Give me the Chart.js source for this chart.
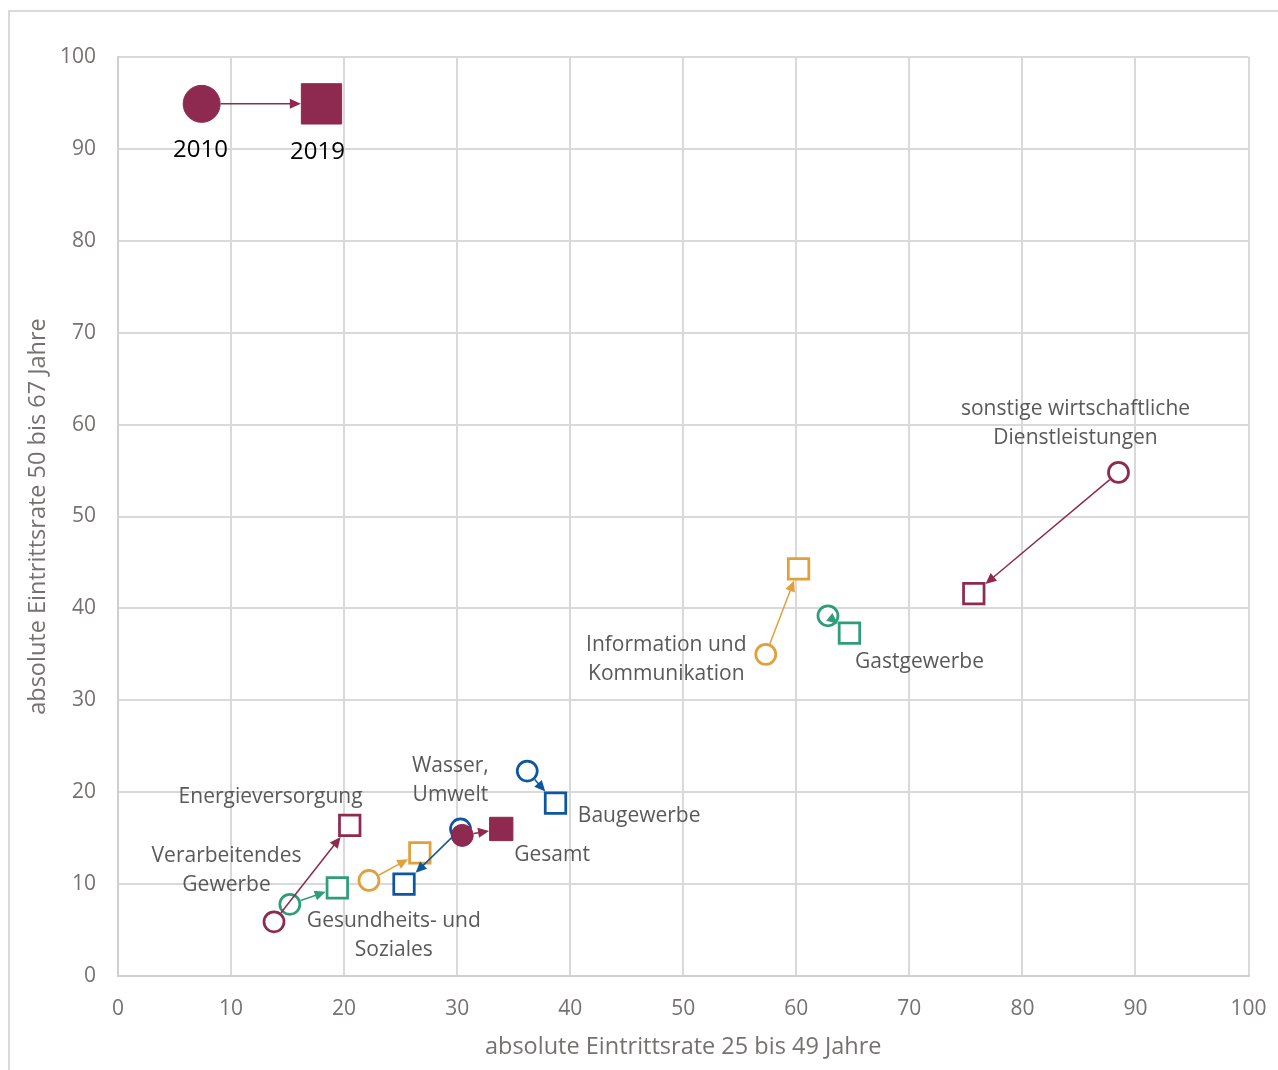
<!DOCTYPE html>
<html lang="de">
<head>
<meta charset="UTF-8">
<title>Eintrittsraten 2010 und 2019</title>
<script src="https://cdn.jsdelivr.net/npm/chart.js@4"></script>
<style>
  html, body { margin: 0; padding: 0; background: #fff; overflow: hidden; }
  .rahmen { position: absolute; left: 8px; top: 10px; width: 1400px; height: 1200px; border: 2px solid #dadada; }
  .wrap { position: absolute; left: 0; top: 0; width: 1278px; height: 1070px; }
</style>
</head>
<body>
<div class="rahmen"></div>
<div class="wrap"><canvas id="chart"></canvas></div>
<script>
// Werte 2010 (Kreis) und 2019 (Quadrat)
const branchen = ['Jahre', 'Gesamt', 'Wasser, Umwelt', 'Baugewerbe', 'Energieversorgung',
  'Verarbeitendes Gewerbe', 'Gesundheits- und Soziales', 'Information und Kommunikation',
  'Gastgewerbe', 'sonstige wirtschaftliche Dienstleistungen'];
const x2010 = [7.4, 30.45, 30.3, 36.2, 13.8, 15.2, 22.2, 57.3, 62.8, 88.5];
const y2010 = [94.9, 15.3, 16.0, 22.3, 5.9, 7.8, 10.4, 35.0, 39.2, 54.8];
const x2019 = [18.0, 33.9, 25.3, 38.7, 20.5, 19.4, 26.7, 60.2, 64.7, 75.7];
const y2019 = [94.9, 16.0, 10.0, 18.8, 16.4, 9.6, 13.4, 44.3, 37.3, 41.6];
const achsenTicks = [0, 10, 20, 30, 40, 50, 60, 70, 80, 90, 100];

const ROT = '#8e2a4f', BLAU = '#0e56a0', GRUEN = '#2f9e78', ORANGE = '#e0a03a';
const farben = [ROT, ROT, BLAU, BLAU, ROT, GRUEN, ORANGE, ORANGE, GRUEN, ROT];
const gefuellt = [true, true, false, false, false, false, false, false, false, false];
const markerKreis = [18.5, 11, 10, 10, 10, 10, 10, 10, 10, 10];
const markerQuadrat = [28.5, 16.5, 14.5, 14.5, 14.5, 14.5, 14.5, 14.5, 14.5, 14.5];

// Beschriftungen (Mitte der ersten Zeile, in Achsenwerten)
const beschriftungen = [
  { text: ['2010'], x: 7.3, y: 89.9, farbe: '#000', groesse: 24 },
  { text: ['2019'], x: 17.65, y: 89.7, farbe: '#000', groesse: 24 },
  { text: ['sonstige wirtschaftliche', 'Dienstleistungen'], x: 84.7, y: 61.7 },
  { text: ['Information und', 'Kommunikation'], x: 48.5, y: 36.0 },
  { text: ['Gastgewerbe'], x: 70.9, y: 34.2 },
  { text: ['Baugewerbe'], x: 46.1, y: 17.4 },
  { text: ['Wasser,', 'Umwelt'], x: 29.4, y: 22.9 },
  { text: ['Gesamt'], x: 38.4, y: 13.2 },
  { text: ['Energieversorgung'], x: 13.5, y: 19.5 },
  { text: ['Verarbeitendes', 'Gewerbe'], x: 9.6, y: 13.1 },
  { text: ['Gesundheits- und', 'Soziales'], x: 24.4, y: 6.0 }
];

const FONT = "'Open Sans', sans-serif";
const TICKFARBE = '#767171';
const TEXTFARBE = '#595959';

const datasets = branchen.map((name, i) => ({
  label: name,
  data: [{ x: x2010[i], y: y2010[i] }, { x: x2019[i], y: y2019[i] }],
  pointStyle: ['circle', 'rect'],
  pointRadius: [markerKreis[i], markerQuadrat[i]],
  pointBorderWidth: gefuellt[i] ? 1 : 2.75,
  pointBorderColor: farben[i],
  pointBackgroundColor: gefuellt[i] ? farben[i] : '#ffffff',
  showLine: false
}));

// Pfeil vom Kreis (2010) zum Quadrat (2019)
const pfeile = {
  id: 'pfeile',
  afterDatasetsDraw(chart) {
    const ctx = chart.ctx;
    chart.data.datasets.forEach((ds, i) => {
      const meta = chart.getDatasetMeta(i);
      const a = meta.data[0], b = meta.data[1];
      const dx = b.x - a.x, dy = b.y - a.y;
      const len = Math.hypot(dx, dy);
      if (len < 1) return;
      const ux = dx / len, uy = dy / len;
      const bw = ds.pointBorderWidth / 2;
      const r0 = markerKreis[i] + bw;
      const half = markerQuadrat[i] * Math.SQRT1_2 + bw;
      const t1 = half / Math.max(Math.abs(ux), Math.abs(uy));
      const sx = a.x + ux * r0, sy = a.y + uy * r0;
      let ex = b.x - ux * t1, ey = b.y - uy * t1;
      const kopf = 11, breite = 5;
      ctx.save();
      ctx.strokeStyle = farben[i];
      ctx.fillStyle = farben[i];
      ctx.lineWidth = 1.5;
      ctx.beginPath();
      ctx.moveTo(sx, sy);
      ctx.lineTo(ex - ux * kopf * 0.8, ey - uy * kopf * 0.8);
      ctx.stroke();
      ctx.beginPath();
      ctx.moveTo(ex, ey);
      ctx.lineTo(ex - ux * kopf - uy * breite, ey - uy * kopf + ux * breite);
      ctx.lineTo(ex - ux * kopf + uy * breite, ey - uy * kopf - ux * breite);
      ctx.closePath();
      ctx.fill();
      ctx.restore();
    });
  }
};

const texte = {
  id: 'texte',
  afterDatasetsDraw(chart) {
    const ctx = chart.ctx;
    const xs = chart.scales.x, ys = chart.scales.y;
    ctx.save();
    ctx.textAlign = 'center';
    ctx.textBaseline = 'middle';
    beschriftungen.forEach(b => {
      ctx.font = (b.groesse || 21) + 'px ' + FONT;
      ctx.fillStyle = b.farbe || TEXTFARBE;
      const px = xs.getPixelForValue(b.x), py = ys.getPixelForValue(b.y);
      b.text.forEach((zeile, k) => ctx.fillText(zeile, px, py + k * 29));
    });
    ctx.restore();
  }
};

new Chart(document.getElementById('chart'), {
  type: 'scatter',
  data: { datasets },
  options: {
    responsive: true,
    maintainAspectRatio: false,
    animation: false,
    events: [],
    layout: { padding: { top: 57, right: 24, left: 0, bottom: 0 } },
    plugins: { legend: { display: false }, tooltip: { enabled: false } },
    scales: {
      x: {
        min: 0, max: 100,
        afterBuildTicks: s => { s.ticks = achsenTicks.map(v => ({ value: v })); },
        afterFit: s => { s.height = 94; s.paddingLeft = 0; s.paddingRight = 0; },
        grid: { color: '#d9d9d9', lineWidth: 2, drawTicks: false },
        border: { color: '#d0d0d0', width: 2 },
        ticks: { padding: 20, color: TICKFARBE, font: { family: FONT, size: 21 } },
        title: {
          display: true, text: 'absolute Eintrittsrate 25 bis 49 Jahre',
          color: TICKFARBE, font: { family: FONT, size: 23.5 }, padding: { top: 0, bottom: 9 }
        }
      },
      y: {
        min: 0, max: 100,
        afterBuildTicks: s => { s.ticks = achsenTicks.map(v => ({ value: v })); },
        afterFit: s => { s.width = 118; s.paddingTop = 0; s.paddingBottom = 0; },
        grid: { color: '#d9d9d9', lineWidth: 2, drawTicks: false },
        border: { color: '#d0d0d0', width: 2 },
        ticks: { padding: 22, color: TICKFARBE, font: { family: FONT, size: 21 } },
        title: {
          display: true, text: 'absolute Eintrittsrate 50 bis 67 Jahre',
          color: TICKFARBE, font: { family: FONT, size: 23.5 }, padding: { top: 24, bottom: 0 }
        }
      }
    }
  },
  plugins: [pfeile, texte]
});
</script>
</body>
</html>
